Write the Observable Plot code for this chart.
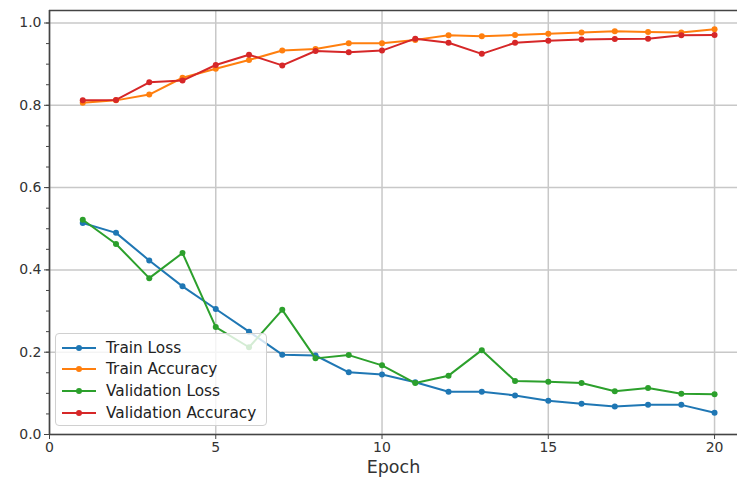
<!DOCTYPE html>
<html>
<head>
<meta charset="utf-8">
<script src="https://cdn.jsdelivr.net/npm/d3@7"></script>
<script src="https://cdn.jsdelivr.net/npm/@observablehq/plot@0.6"></script>
<style>
  body { margin: 0; background: #fff; font-family: "DejaVu Sans", sans-serif; }
  #wrap { position: relative; width: 737px; height: 484px; }
  #legend {
    position: absolute; left: 55px; top: 333px; width: 212px; height: 93px;
    box-sizing: border-box; background: rgba(255,255,255,0.8);
    border: 1px solid #d0d0d0; border-radius: 4px;
    font-family: "DejaVu Sans", sans-serif; font-size: 15.3px; color: #222;
    padding-top: 3px;
  }
  .row { height: 21.6px; display: flex; align-items: center; }
  .row svg { margin-left: 6px; margin-right: 10px; }
</style>
</head>
<body>
<div id="wrap"></div>
<script>
const epochs = [1,2,3,4,5,6,7,8,9,10,11,12,13,14,15,16,17,18,19,20];
const seriesNames = ["Train Loss", "Train Accuracy", "Validation Loss", "Validation Accuracy"];
const seriesColors = ["#1f77b4", "#ff7f0e", "#2ca02c", "#d62728"];
const trainLoss = [0.514,0.490,0.423,0.360,0.305,0.250,0.194,0.192,0.151,0.146,0.127,0.104,0.104,0.095,0.082,0.075,0.068,0.072,0.072,0.053];
const trainAcc  = [0.806,0.812,0.826,0.867,0.889,0.910,0.933,0.937,0.951,0.951,0.959,0.970,0.968,0.971,0.974,0.977,0.980,0.978,0.977,0.985];
const valLoss   = [0.522,0.463,0.380,0.441,0.261,0.212,0.303,0.185,0.193,0.168,0.125,0.143,0.205,0.130,0.128,0.125,0.105,0.113,0.099,0.098];
const valAcc    = [0.812,0.813,0.856,0.860,0.898,0.923,0.897,0.932,0.929,0.933,0.962,0.952,0.925,0.952,0.957,0.960,0.961,0.962,0.970,0.971];
const xTicks = [0,5,10,15,20];
const yTicks = [0,0.2,0.4,0.6,0.8,1.0];
const yMinor = d3.range(0, 21).map(i => i * 0.05);
const xDomain = [0, 20.69];
const yDomain = [0, 1.0304];

const allValues = [trainLoss, trainAcc, valLoss, valAcc];
const data = [];
seriesNames.forEach((s, i) => epochs.forEach((e, j) => data.push({series: s, epoch: e, value: allValues[i][j]})));

const marks = [
  Plot.gridX({ticks: xTicks, stroke: "#c8c8c8", strokeOpacity: 1, strokeWidth: 1.5}),
  Plot.gridY({ticks: yTicks, stroke: "#c8c8c8", strokeOpacity: 1, strokeWidth: 1.5}),
];
seriesNames.forEach((s) => {
  const d = data.filter(r => r.series === s);
  marks.push(Plot.line(d, {x: "epoch", y: "value", stroke: "series", strokeWidth: 2}));
  marks.push(Plot.dot(d, {x: "epoch", y: "value", fill: "series", r: 3, stroke: "none"}));
});
marks.push(
  Plot.axisY({ticks: yMinor, tickSize: 3, text: null, stroke: "#444", label: null}),
  Plot.axisY({ticks: yTicks, tickSize: 5, tickFormat: d3.format(".1f"), fontSize: 14, tickPadding: 3, stroke: "#444", label: null}),
  Plot.axisX({ticks: xTicks, tickSize: 5, fontSize: 14, tickPadding: 3, stroke: "#444", label: null}),
  Plot.ruleX([0], {stroke: "#444", strokeWidth: 1.6}),
  Plot.ruleY([0], {stroke: "#444", strokeWidth: 1.6}),
  Plot.ruleY([yDomain[1]], {stroke: "#444", strokeWidth: 1.6}),
  Plot.text(["Epoch"], {frameAnchor: "bottom", dy: 38, fontSize: 17.5, fill: "#333"})
);

const chart = Plot.plot({
  width: 737, height: 484,
  marginLeft: 49, marginRight: 0, marginTop: 10, marginBottom: 50,
  style: {fontFamily: "DejaVu Sans, sans-serif", color: "#333", background: "#fff"},
  x: {domain: xDomain, label: null},
  y: {domain: yDomain, label: null},
  color: {domain: seriesNames, range: seriesColors},
  marks
});
const wrap = document.getElementById("wrap");
wrap.appendChild(chart);

const legend = document.createElement("div");
legend.id = "legend";
seriesNames.forEach((s, i) => {
  const row = document.createElement("div");
  row.className = "row";
  row.innerHTML = `<svg width="34" height="8"><line x1="0" y1="4" x2="34" y2="4" stroke="${seriesColors[i]}" stroke-width="2"/><circle cx="17" cy="4" r="3" fill="${seriesColors[i]}"/></svg><span>${s}</span>`;
  legend.appendChild(row);
});
wrap.appendChild(legend);
</script>
</body>
</html>
